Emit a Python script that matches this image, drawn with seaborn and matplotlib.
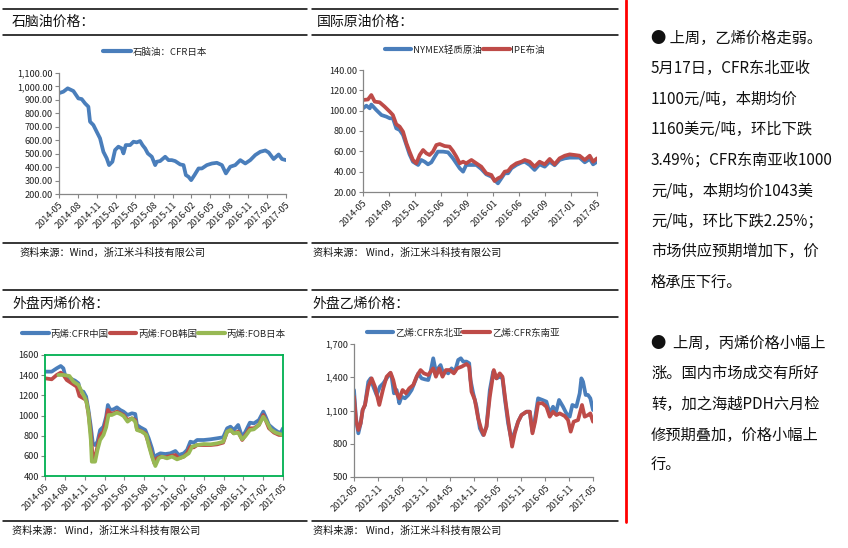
import numpy as np
import pandas as pd
import matplotlib
matplotlib.use('Agg')
import matplotlib.pyplot as plt
import seaborn as sns
from matplotlib.lines import Line2D
from matplotlib.ticker import FuncFormatter

sns.set_theme(style='white')
plt.rcParams['font.family'] = ['Noto Sans CJK SC', 'DejaVu Sans']
plt.rcParams['axes.unicode_minus'] = False

BLUE = '#4a7ebb'
RED = '#be4b48'
GREEN = '#98b954'
FRAME = '#00b050'
GRAY = '#868686'

# ---------------- Chart 1: naphtha CFR Japan ----------------
naph_labels = ['2014-05', '2014-08', '2014-11', '2015-02', '2015-05', '2015-08', '2015-11',
               '2016-02', '2016-05', '2016-08', '2016-11', '2017-02', '2017-05']
naph_x = [0, 0.69, 1.38, 2.28, 3.07, 3.6, 4.13, 4.66, 4.92, 5.45, 5.98, 6.51, 7.04, 7.57, 7.94,
          8.47, 8.89, 9.42, 9.95, 10.22, 10.59, 11.28, 11.81, 12.33, 12.86, 13.24, 13.66, 14.08,
          14.72, 15.25, 15.51, 16.04, 16.84, 17.37, 17.89, 18.42, 19.22, 19.75, 20.12, 20.54,
          20.96, 21.49, 22.13, 22.66, 23.45, 24.25, 25.04, 25.84, 26.47, 27.16, 27.95, 28.75,
          29.54, 30.33, 31.13, 31.92, 32.72, 33.25, 34.04, 34.83, 35.36, 36.0]
naph_cfr_japan = [950, 961, 986, 966, 911, 906, 874, 849, 738, 713, 663, 614, 514, 465, 415, 440,
                  527, 552, 539, 502, 564, 564, 589, 584, 594, 564, 539, 502, 477, 415, 440, 445,
                  477, 452, 452, 445, 420, 415, 341, 328, 303, 341, 390, 390, 415, 427, 432, 415,
                  353, 403, 415, 452, 427, 452, 490, 514, 524, 509, 460, 494, 460, 452]

# ---------------- Chart 2: crude ----------------
crude_labels = ['2014-05', '2014-09', '2015-01', '2015-06', '2015-09', '2016-01', '2016-06',
                '2016-09', '2017-01', '2017-05']
wti_x = [0, .13, .26, .32, .51, .71, .9, 1.03, 1.15, 1.28, 1.41, 1.54, 1.67, 1.79, 1.92, 2.12,
         2.24, 2.37, 2.5, 2.63, 2.76, 2.88, 3.08, 3.27, 3.46, 3.59, 3.72, 3.85, 3.97, 4.17, 4.36,
         4.55, 4.74, 4.94, 5.06, 5.19, 5.32, 5.45, 5.58, 5.71, 5.9, 6.09, 6.22, 6.41, 6.6, 6.79,
         6.99, 7.18, 7.37, 7.56, 7.76, 7.95, 8.14, 8.33, 8.53, 8.72, 8.85, 9.0]
wti = [102.3, 104.9, 102.3, 106, 100.7, 95.7, 94.1, 92.5, 92.5, 82.6, 81, 76, 66.2, 57, 49.8,
       46.6, 51.5, 49.8, 47.2, 49.2, 54.8, 59.7, 59.7, 59, 53.1, 48.2, 43.3, 40, 46.6, 46.6,
       46.6, 42.6, 37.4, 35.1, 31.8, 28.5, 33.4, 38.4, 38.4, 43.3, 46.6, 48.9, 49.8, 46.6, 41.7,
       47.2, 44.9, 49.8, 46.3, 51.5, 53.1, 53.8, 53.8, 53.8, 49.2, 52.5, 47.2, 49.8]
brent_x = [0, .19, .32, .45, .64, .83, 1.03, 1.15, 1.28, 1.41, 1.54, 1.67, 1.79, 1.92, 2.05,
           2.18, 2.31, 2.44, 2.56, 2.69, 2.82, 2.95, 3.14, 3.33, 3.46, 3.59, 3.72, 3.85, 3.97,
           4.17, 4.36, 4.55, 4.74, 4.94, 5.06, 5.19, 5.32, 5.45, 5.58, 5.71, 5.9, 6.09, 6.22,
           6.41, 6.6, 6.79, 6.99, 7.18, 7.37, 7.56, 7.76, 7.95, 8.14, 8.33, 8.53, 8.72, 8.85, 9.0]
brent = [110.5, 111, 115.4, 108.9, 108.2, 104, 99, 95.7, 86.6, 84.3, 79.3, 67.9, 59.7, 51.5,
         48.2, 56.4, 61.3, 58, 56.4, 59.7, 66.2, 67.2, 65.2, 64.6, 60.3, 54.8, 48.2, 49.8, 48.2,
         51.5, 48.2, 44.9, 38.4, 36.7, 30.8, 33.4, 35.1, 40, 40.7, 44.9, 48.2, 49.8, 51.5, 49.8,
         44.9, 49.8, 47.2, 52.5, 47.2, 53.1, 55.7, 57, 56.4, 55.7, 51.5, 55.7, 49.8, 53.1]

# ---------------- Chart 3: propylene ----------------
prop_labels = naph_labels
prop_cn_x = [0, 1.01, 1.77, 2.38, 2.78, 3.03, 3.79, 4.55, 5.06, 5.31, 5.81, 6.22, 6.57, 6.93,
             7.23, 7.58, 7.94, 8.34, 8.85, 9.25, 9.51, 9.86, 10.36, 10.87, 11.38, 11.88, 12.49,
             13.15, 13.65, 13.91, 14.41, 15.17, 15.68, 16.18, 16.54, 16.94, 17.45, 18.2, 18.96,
             19.72, 20.23, 20.99, 21.49, 21.99, 22.5, 23.01, 24.02, 25.03, 26.04, 26.95, 27.55,
             28.06, 28.56, 29.22, 29.83, 30.33, 30.99, 31.6, 32.36, 33.02, 33.37, 33.88, 34.64,
             35.39, 35.75, 36.0]
prop_cfr_china = [1435, 1435, 1468, 1491, 1468, 1402, 1369, 1345, 1319, 1246, 1236, 1187, 1055,
                  889, 724, 707, 740, 856, 889, 988, 1104, 1055, 1061, 1081, 1055, 1038, 1005,
                  1022, 1015, 906, 883, 856, 774, 674, 575, 608, 625, 618, 625, 648, 608, 625,
                  658, 740, 731, 757, 757, 764, 774, 784, 873, 889, 856, 906, 784, 840, 929, 922,
                  955, 1038, 988, 906, 863, 830, 840, 873]
prop_kr_x = [0, 1.01, 1.77, 2.38, 2.78, 3.29, 4.05, 4.8, 5.21, 5.81, 6.22, 6.57, 6.93, 7.23,
             7.58, 7.94, 8.34, 8.85, 9.25, 9.51, 9.86, 10.36, 10.87, 11.38, 11.88, 12.49, 13.15,
             13.65, 13.91, 14.41, 15.17, 15.68, 16.18, 16.54, 16.94, 17.45, 18.2, 18.96, 19.72,
             20.23, 20.99, 21.49, 21.99, 22.5, 23.01, 24.02, 25.03, 26.04, 26.95, 27.55, 28.06,
             28.56, 29.22, 29.83, 30.33, 30.99, 31.6, 32.36, 33.02, 33.37, 33.88, 34.64, 35.39,
             36.0]
prop_fob_korea = [1369, 1359, 1402, 1425, 1402, 1352, 1319, 1286, 1193, 1170, 1154, 1022, 823,
                  559, 592, 691, 807, 840, 955, 1055, 1022, 1022, 1038, 1022, 1005, 955, 972,
                  955, 863, 850, 823, 724, 608, 526, 575, 592, 585, 598, 608, 575, 592, 625, 691,
                  684, 707, 707, 707, 714, 731, 840, 856, 823, 840, 757, 807, 873, 873, 906, 1005,
                  955, 873, 830, 807, 807]
prop_jp_x = [2.02, 2.78, 3.69, 4.3, 5.06, 5.56, 6.07, 6.32, 6.57, 6.93, 7.08, 7.58, 7.94, 8.34,
             8.85, 9.25, 9.61, 10.11, 10.87, 11.38, 11.88, 12.49, 13.15, 13.65, 13.91, 14.66,
             15.32, 15.68, 16.18, 16.69, 17.19, 17.7, 18.45, 19.21, 19.97, 20.99, 21.74, 22.25,
             23.01, 24.02, 25.03, 26.04, 26.95, 27.55, 28.06, 28.56, 29.22, 29.83, 30.33, 30.99,
             31.6, 32.36, 33.02, 33.52, 34.13, 34.89, 36.0]
prop_fob_japan = [1402, 1402, 1392, 1336, 1303, 1236, 1170, 1121, 1022, 757, 542, 542, 658, 757,
                  807, 883, 1005, 1005, 1028, 1015, 995, 939, 972, 939, 856, 840, 807, 707, 592,
                  499, 575, 592, 575, 592, 565, 592, 625, 691, 707, 717, 714, 724, 740, 840, 856,
                  823, 830, 764, 797, 856, 863, 906, 988, 939, 863, 830, 807]

# ---------------- Chart 4: ethylene ----------------
eth_labels = ['2012-05', '2012-11', '2013-05', '2013-11', '2014-05', '2014-11', '2015-05',
              '2015-11', '2016-05', '2016-11', '2017-05']
eth_ne_x = [0, .5, 1.09, 1.67, 2.17, 2.76, 3.59, 4.18, 4.85, 5.68, 6.52, 7.35, 8.19, 9.03, 9.44,
            10.03, 10.7, 11.37, 11.95, 12.79, 13.62, 14.46, 15.29, 16.13, 16.97, 17.8, 18.64,
            19.22, 19.89, 20.56, 21.14, 21.73, 22.4, 23.07, 23.65, 24.49, 25.32, 26.16, 26.82,
            27.41, 28.25, 28.92, 29.25, 29.92, 30.75, 31.59, 32.42, 33.26, 34.1, 34.93, 35.77,
            36.6, 37.27, 37.86, 38.69, 39.53, 40.36, 41.2, 42.04, 43.29, 44.13, 44.8, 45.38,
            46.22, 47.31, 48.3, 49.14, 49.97, 50.64, 51.48, 52.48, 53.32, 54.15, 54.82, 55.82,
            56.66, 57.08, 57.5, 58.16, 58.75, 59.33, 60.0]
eth_cfr_ne_asia = [1285, 1029, 894, 984, 1104, 1150, 1360, 1390, 1315, 1240, 1315, 1345, 1390,
                   1435, 1405, 1255, 1285, 1165, 1225, 1210, 1240, 1285, 1360, 1435, 1390, 1381,
                   1375, 1450, 1571, 1450, 1480, 1510, 1435, 1450, 1435, 1480, 1450, 1556, 1571,
                   1541, 1541, 1526, 1375, 1255, 1135, 939, 879, 954, 1285, 1450, 1390, 1405,
                   1390, 1210, 984, 834, 909, 999, 1059, 1089, 1089, 909, 1014, 1210, 1195, 1180,
                   1074, 1134, 1074, 1195, 1134, 1074, 1044, 1150, 1134, 1255, 1390, 1360, 1240,
                   1240, 1210, 1104]
eth_se_x = [0, .5, 1.09, 1.67, 2.17, 2.76, 3.59, 4.43, 5.26, 6.35, 7.35, 8.19, 9.19, 9.86, 10.53,
            11.37, 12.2, 13.04, 13.87, 14.88, 15.71, 16.71, 17.55, 18.64, 19.22, 19.89, 20.56,
            21.39, 22.23, 23.07, 24.07, 25.07, 25.91, 26.99, 28.25, 28.92, 29.5, 30.34, 31.17,
            32.01, 32.59, 33.26, 34.1, 35.1, 35.77, 36.6, 37.27, 38.11, 38.94, 39.69, 40.36,
            41.2, 42.04, 43.29, 44.13, 44.8, 45.47, 46.22, 47.31, 48.3, 49.14, 49.97, 50.81,
            51.64, 52.9, 53.73, 54.4, 55.15, 56.24, 57.24, 57.91, 58.75, 59.33, 60.0]
eth_cfr_se_asia = [1225, 1014, 924, 984, 1104, 1150, 1315, 1390, 1315, 1150, 1300, 1405, 1441,
                   1375, 1270, 1210, 1285, 1255, 1300, 1330, 1405, 1465, 1435, 1420, 1450, 1480,
                   1405, 1480, 1405, 1465, 1465, 1435, 1480, 1495, 1520, 1495, 1270, 1195, 1029,
                   924, 879, 954, 1225, 1465, 1390, 1435, 1405, 1165, 954, 774, 894, 999, 1059,
                   1089, 1089, 894, 999, 1165, 1165, 1134, 1044, 1089, 1059, 1074, 1050, 1014,
                   909, 999, 1014, 1150, 1044, 1059, 1074, 999]

text_block1 = ['● 上周，乙烯价格走弱。', '5月17日，CFR东北亚收', '1100元/吨，本期均价',
               '1160美元/吨，环比下跌', '3.49%；CFR东南亚收1000', '元/吨，本期均价1043美',
               '元/吨，环比下跌2.25%；', '市场供应预期增加下，价', '格承压下行。']
text_block2 = ['●  上周，丙烯价格小幅上', '涨。国内市场成交有所好', '转，加之海越PDH六月检',
               '修预期叠加，价格小幅上', '行。']

# ---------------- Figure ----------------
W, H = 848, 548
fig = plt.figure(figsize=(W / 100, H / 100), dpi=100)
fig.patch.set_facecolor('white')
bg = fig.add_axes([0, 0, 1, 1])
bg.set_xlim(0, W)
bg.set_ylim(H, 0)
bg.axis('off')


def box(l, t, r, b):
    return [l / W, 1 - b / H, (r - l) / W, (b - t) / H]


def panel(x0, x1, ytop, yhead, ybot, title, tx, src, sx):
    for y in (ytop, yhead, ybot):
        bg.plot([x0, x1], [y, y], color='black', lw=1.1)
    bg.text(tx, (ytop + yhead) / 2, title, fontsize=10, va='center', ha='left', color='#111111')
    bg.text(sx, ybot + 10, src, fontsize=7.3, va='center', ha='left', color='#111111')


panel(3, 307, 9, 35, 243, '石脑油价格：', 12, '资料来源：Wind，浙江米斗科技有限公司', 19)
panel(312, 618, 9, 35, 243, '国际原油价格：', 317, '资料来源： Wind，浙江米斗科技有限公司', 313)
panel(3, 307, 290, 317, 521, '外盘丙烯价格：', 12, '资料来源： Wind，浙江米斗科技有限公司', 12)
panel(312, 618, 290, 317, 521, '外盘乙烯价格：', 312, '资料来源： Wind，浙江米斗科技有限公司', 313)

bg.plot([626, 626], [0, 522], color='#ff0000', lw=2)

for i, line in enumerate(text_block1):
    bg.text(651, 38 + i * 30.5, line, fontsize=11, va='center', ha='left', color='#111111')
for i, line in enumerate(text_block2):
    bg.text(651, 343 + i * 30.7, line, fontsize=11, va='center', ha='left', color='#111111')


def style(ax, labels, ylim, ystep, fmt, frame=False):
    xmax = ax.get_xlim()[1]
    ax.set_xticks(np.linspace(0, xmax, len(labels)))
    ax.set_xticklabels(labels, rotation=45, ha='right', rotation_mode='anchor')
    ax.set_ylim(*ylim)
    ax.set_yticks(np.arange(ylim[0], ylim[1] + ystep / 2, ystep))
    ax.yaxis.set_major_formatter(FuncFormatter(fmt))
    ax.set_xlabel('')
    ax.set_ylabel('')
    ax.tick_params(axis='both', direction='out', length=3, width=0.8, color=GRAY,
                   labelsize=6.6, labelcolor='#222222', pad=1.5)
    ax.tick_params(axis='x', bottom=True)
    ax.tick_params(axis='y', left=True)
    for s in ['top', 'right', 'left', 'bottom']:
        ax.spines[s].set_visible(frame or s in ('left', 'bottom'))
        ax.spines[s].set_color(FRAME if frame else GRAY)
        ax.spines[s].set_linewidth(1.3 if frame else 0.9)
    ax.grid(False)
    ax.set_facecolor('white')


def legend(handles, labels, cx, cy, spacing=0.8, hl=3.0):
    fig.legend(handles, labels, loc='center', bbox_to_anchor=(cx / W, 1 - cy / H),
               ncol=len(labels), frameon=False, fontsize=6.8, handlelength=hl,
               handletextpad=0.2, columnspacing=spacing, borderpad=0)


LW = 2.7

# Chart 1
ax1 = fig.add_axes(box(59, 73, 286, 194))
ax1.set_xlim(0, 36)
sns.lineplot(x=naph_x, y=naph_cfr_japan, ax=ax1, color=BLUE, linewidth=LW, sort=False)
style(ax1, naph_labels, (200, 1100), 100, lambda v, p: f'{v:,.2f}')
legend([Line2D([], [], color=BLUE, lw=3)], ['石脑油：CFR日本'], 155, 52)

# Chart 2
ax2 = fig.add_axes(box(363, 70, 597, 192))
ax2.set_xlim(0, 9)
sns.lineplot(x=wti_x, y=wti, ax=ax2, color=BLUE, linewidth=LW, sort=False)
sns.lineplot(x=brent_x, y=brent, ax=ax2, color=RED, linewidth=LW, sort=False)
style(ax2, crude_labels, (20, 140), 20, lambda v, p: f'{v:.2f}')
legend([Line2D([], [], color=BLUE, lw=3), Line2D([], [], color=RED, lw=3)],
       ['NYMEX轻质原油', 'IPE布油'], 465, 50, spacing=0.1, hl=2.8)

# Chart 3
ax3 = fig.add_axes(box(45, 355, 283, 476))
ax3.set_xlim(0, 36)
sns.lineplot(x=prop_cn_x, y=prop_cfr_china, ax=ax3, color=BLUE, linewidth=LW, sort=False)
sns.lineplot(x=prop_kr_x, y=prop_fob_korea, ax=ax3, color=RED, linewidth=LW, sort=False)
sns.lineplot(x=prop_jp_x, y=prop_fob_japan, ax=ax3, color=GREEN, linewidth=LW, sort=False)
style(ax3, prop_labels, (400, 1600), 200, lambda v, p: f'{v:.0f}', frame=True)
legend([Line2D([], [], color=c, lw=3) for c in (BLUE, RED, GREEN)],
       ['丙烯:CFR中国', '丙烯:FOB韩国', '丙烯:FOB日本'], 154, 334, spacing=0.1, hl=2.8)

# Chart 4
ax4 = fig.add_axes(box(354, 344, 593, 477))
ax4.set_xlim(0, 60)
sns.lineplot(x=eth_ne_x, y=eth_cfr_ne_asia, ax=ax4, color=BLUE, linewidth=LW, sort=False)
sns.lineplot(x=eth_se_x, y=eth_cfr_se_asia, ax=ax4, color=RED, linewidth=LW, sort=False)
style(ax4, eth_labels, (500, 1700), 300, lambda v, p: f'{v:,.0f}')
legend([Line2D([], [], color=BLUE, lw=3), Line2D([], [], color=RED, lw=3)],
       ['乙烯:CFR东北亚', '乙烯:CFR东南亚'], 463, 333, spacing=0.1, hl=2.8)

fig.savefig('out.png', dpi=100, facecolor='white')
